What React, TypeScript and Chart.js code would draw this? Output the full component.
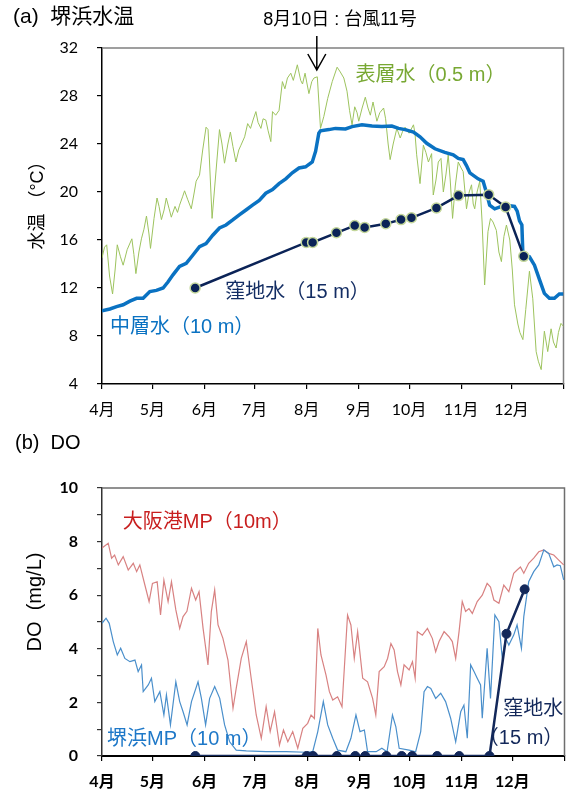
import React, { useEffect, useRef } from 'react';
import { Chart, registerables } from 'chart.js';

Chart.register(...registerables);

// Days counted from 1 April; ticks at the first day of each month
const monthDays = [0, 30, 61, 91, 122, 153, 183, 214, 244, 275];
const monthLabels = ['4月', '5月', '6月', '7月', '8月', '9月', '10月', '11月', '12月', ''];

// (a) surface water temperature, 0.5 m
const surfaceDays = [0, 1.5, 2.8, 4.5, 6.3, 7.8, 9.1, 11, 12.6, 15, 17.8, 19, 20.2, 22, 23.5, 25, 26.5, 28, 28.9, 31, 32.8, 34, 35.4, 37, 38.3, 40, 41.3, 43.5, 45, 46.2, 48, 49.2, 51, 53.2, 55, 56.1, 58.1, 60, 62, 63.2, 65.6, 67.5, 70, 71.5, 73, 75, 76.5, 78, 79.8, 81.5, 82.8, 85, 86.8, 88.5, 90, 91.7, 93, 94.7, 96, 97.6, 99, 100.6, 101.6, 103.5, 105.5, 107.5, 109, 110.5, 112.5, 114, 116.4, 118.4, 119.5, 121, 122.2, 123.3, 125, 126.3, 128.3, 130.2, 132.2, 134.5, 137.2, 140.1, 142, 144.1, 146, 147.5, 149, 150.6, 152, 153, 155, 156.9, 158.5, 159.9, 161.5, 163.8, 165.5, 167.8, 169, 170.5, 171.7, 173.5, 175.7, 177.7, 179, 180.6, 183, 185.6, 186.5, 187.5, 189.5, 191.5, 193, 194.5, 196.4, 197.4, 199, 200.4, 202, 203.4, 205, 206.3, 207.5, 208.9, 210.5, 212.3, 214, 215.2, 217.2, 218.8, 220.2, 221.2, 222.1, 223.5, 225.1, 226.5, 228, 230, 231.5, 233, 235, 236.5, 238, 239.5, 241, 243, 244.5, 245.8, 247.8, 249, 250.8, 252.5, 254.7, 256.7, 258.7, 260, 261.7, 263.6, 265.6, 267.6, 269, 270.6, 272, 273.5, 275];
const surfaceTemp = [14.5, 15.4, 15.6, 13.0, 11.5, 13.5, 15.6, 14.6, 13.9, 15.2, 16.1, 14.8, 13.2, 15.0, 16.1, 16.9, 18.0, 16.5, 15.3, 17.8, 19.5, 18.8, 17.7, 18.5, 19.5, 18.6, 17.9, 18.8, 18.3, 18.9, 19.6, 20.1, 19.4, 18.6, 20.0, 20.9, 21.4, 23.5, 25.4, 25.2, 17.8, 21.0, 25.2, 24.0, 22.4, 24.0, 25.0, 23.8, 22.5, 23.5, 23.9, 24.6, 25.7, 25.3, 26.0, 26.7, 25.8, 25.3, 26.1, 26.0, 25.1, 24.2, 26.7, 26.4, 26.8, 29.2, 28.6, 29.5, 29.9, 29.3, 30.6, 29.3, 29.0, 29.9, 29.0, 28.2, 29.2, 29.5, 29.6, 25.3, 26.3, 27.8, 29.2, 30.4, 30.0, 29.5, 28.4, 26.8, 25.6, 27.1, 26.6, 25.9, 27.0, 27.9, 27.0, 26.4, 27.5, 25.9, 26.6, 27.0, 26.1, 24.0, 22.7, 24.0, 25.3, 24.5, 25.0, 25.4, 24.9, 25.6, 24.9, 23.1, 20.7, 23.9, 23.3, 22.5, 23.2, 19.75, 21.0, 22.5, 22.8, 20.0, 21.5, 23.1, 21.0, 17.8, 20.5, 22.5, 22.0, 21.7, 18.6, 20.0, 20.6, 19.0, 18.6, 20.0, 20.9, 17.5, 12.25, 16.7, 17.8, 17.5, 16.8, 15.0, 14.2, 16.3, 17.25, 16.0, 13.5, 10.6, 9.0, 8.3, 7.7, 10.2, 13.4, 11.1, 6.7, 5.9, 5.2, 8.4, 6.7, 8.6, 7.5, 7.0, 8.3, 9.05, 8.8];

// (a) middle layer water temperature, 10 m
const middleDays = [0, 4.7, 8.7, 12.6, 16.6, 20.6, 24.5, 28.5, 32.4, 36.4, 39.3, 42.3, 46.2, 50.2, 54.2, 58.1, 62, 66, 70, 73.9, 77.9, 81.8, 85.8, 89.7, 93.7, 97.6, 101.6, 105.5, 109.5, 113.4, 117.4, 121.3, 125.3, 127.3, 129.2, 130.2, 135.2, 139.1, 145.1, 149, 154.9, 160.9, 166.8, 172.7, 176.7, 180.6, 185.6, 189.5, 193.5, 198.4, 204.3, 209.3, 212.3, 215.2, 217.2, 219.2, 224.1, 227.1, 229, 231, 234, 238, 240.9, 245.8, 247.4, 248.8, 250.2, 250.8, 254.7, 257.7, 260.7, 263.6, 266.6, 269.6, 272.5, 275];
const middleTemp = [10.1, 10.25, 10.45, 10.6, 10.9, 11.14, 11.14, 11.7, 11.8, 12.0, 12.5, 13.1, 13.8, 14.06, 14.75, 15.45, 15.7, 16.4, 17.0, 17.25, 17.67, 18.1, 18.5, 18.9, 19.3, 19.9, 20.2, 20.7, 21.1, 21.6, 22.0, 22.1, 22.5, 23.4, 24.9, 25.1, 25.2, 25.3, 25.25, 25.45, 25.6, 25.5, 25.45, 25.5, 25.3, 25.2, 25.0, 24.6, 24.06, 23.6, 23.3, 23.1, 22.8, 22.7, 22.2, 21.6, 21.1, 20.9, 20.0, 18.9, 18.6, 18.8, 18.9, 18.8, 18.4, 17.6, 17.25, 14.75, 14.6, 13.9, 12.7, 11.55, 11.14, 11.14, 11.5, 11.5];

// Depression water, 15 m: survey days, temperature and DO
const pitDays = [55.5, 121.7, 125.5, 139.7, 150.6, 156.5, 169.1, 178.2, 184.4, 199.3, 212.4, 230.4, 240.5, 251.3];
const pitTemp = [12.0, 15.8, 15.8, 16.6, 17.2, 17.05, 17.35, 17.7, 17.85, 18.67, 19.7, 19.78, 18.75, 14.64];
const pitDO = [0, 0, 0, 0, 0, 0, 0, 0, 0, 0, 0, 0, 4.56, 6.22];

// (b) DO at Osaka Port MP, 10 m
const osakaDays = [0, 3.7, 5.7, 7.5, 9.7, 12.6, 15.6, 18.6, 20.6, 22.5, 25.5, 28, 30, 32.8, 34.8, 36.8, 39.3, 41.3, 43.9, 46.2, 48.2, 50.5, 53.2, 55.7, 57.7, 60.1, 63, 65, 67, 69, 71.9, 74.9, 77.9, 79.8, 82.8, 85.8, 88.7, 91.7, 94.7, 97.6, 100, 102.6, 105.5, 107.9, 110.5, 113.4, 116.4, 119.4, 122.3, 124.3, 126.3, 128.3, 130.2, 133.2, 135.2, 137.2, 140.1, 142.7, 146, 148, 150, 152, 155, 157.9, 160.9, 162.8, 164.8, 167.8, 169.8, 171.8, 173.7, 175.7, 177.7, 179.6, 182.6, 184.6, 186.2, 187.5, 190.5, 193.5, 196.4, 198.4, 200.4, 203.4, 206.3, 208.3, 210.3, 212.3, 214.2, 216.2, 218.2, 220.2, 223.1, 226.1, 229, 231, 233, 236, 238.9, 241.9, 244.8, 246.8, 248.8, 250.8, 253.7, 256.7, 259.7, 262.7, 265.6, 268.6, 271.6, 274.5];
const osakaDO = [7.76, 7.94, 7.38, 7.5, 7.13, 7.44, 6.94, 7.19, 6.88, 7.13, 6.38, 5.76, 6.44, 6.5, 5.26, 6.56, 5.76, 6.5, 5.45, 4.76, 5.2, 5.4, 6.26, 5.82, 6.13, 4.76, 3.4, 5.39, 6.2, 4.89, 4.39, 3.58, 1.78, 2.52, 3.64, 4.27, 2.9, 1.53, 0.66, 1.84, 0.91, 1.65, 0.41, 0.97, 0.53, 0.91, 0.29, 1.03, 1.22, 1.53, 1.4, 4.76, 3.77, 3.02, 2.4, 2.09, 2.21, 1.84, 5.26, 4.89, 3.64, 4.64, 2.9, 2.77, 2.15, 1.53, 3.15, 3.33, 3.64, 4.2, 3.96, 3.15, 2.65, 3.4, 3.21, 3.52, 2.9, 4.64, 4.51, 4.76, 4.39, 3.89, 4.27, 4.64, 4.45, 4.27, 3.64, 4.64, 5.76, 5.39, 5.5, 5.32, 5.76, 6.0, 6.44, 6.3, 5.82, 5.7, 6.38, 6.13, 6.82, 6.94, 7.05, 6.82, 7.19, 7.38, 7.62, 7.69, 7.56, 7.5, 7.31, 7.13];

// (b) DO at Sakaihama MP, 10 m
const sakaiDays = [0, 2.4, 4.3, 6.7, 9.1, 11.1, 13.6, 16.6, 19.6, 21.5, 23.5, 24.5, 27.5, 29.4, 31.4, 34.4, 36.8, 38.3, 40.7, 43.9, 46.2, 48.2, 50.6, 53.2, 57.1, 59.1, 61.6, 64, 67, 70, 72.9, 75.9, 79.8, 85.8, 97.6, 109.5, 121.3, 125.3, 128.3, 131.6, 134.2, 137.2, 140.1, 145, 148, 151, 153.4, 156, 157.9, 163, 166.4, 169.5, 172.7, 174.7, 176.7, 182.6, 186.5, 189.5, 191.5, 193.5, 195.5, 198.4, 201.4, 204.3, 207.3, 210.3, 213.3, 215.2, 217.2, 219.2, 221.2, 223.1, 225.1, 226.1, 229, 231, 233.6, 236, 238, 240, 241.9, 244.8, 246.8, 249.4, 250.8, 253.7, 256.7, 259.7, 262.7, 265.6, 268.6, 270.6, 272.5, 274.5];
const sakaiDO = [4.95, 5.14, 4.95, 4.27, 3.77, 4.02, 3.64, 3.52, 3.58, 3.15, 3.4, 2.4, 2.65, 2.9, 2.03, 2.4, 1.53, 2.28, 1.16, 2.77, 2.03, 1.65, 1.16, 2.03, 2.77, 2.15, 1.16, 2.15, 2.59, 2.15, 1.16, 0.53, 0.22, 0.19, 0.16, 0.16, 0.14, 0.16, 0.91, 2.03, 1.16, 0.66, 0.22, 0.16, 0.66, 1.53, 0.91, 0.97, 0.16, 0.16, 0.29, 0.16, 1.53, 1.1, 0.29, 0.22, 0.16, 0.91, 2.4, 2.59, 2.52, 2.15, 2.34, 2.03, 1.41, 0.53, 1.65, 1.9, 0.66, 3.4, 3.15, 2.9, 2.65, 1.41, 4.02, 2.15, 5.26, 5.01, 3.64, 4.4, 4.14, 4.51, 4.89, 4.02, 5.2, 6.5, 6.88, 7.13, 7.69, 7.56, 7.06, 7.13, 7.1, 6.57];

// Temperature axis ticks (°C)
const tempTicks = [4, 8, 12, 16, 20, 24, 28, 32];

const CJK = "'Noto Sans CJK JP'";
const SANS = `'Liberation Sans', ${CJK}`;
const TICK = `Lato, ${CJK}`;

const zip = (xs: number[], ys: number[]) => xs.map((x, i) => ({ x, y: ys[i] }));

type TextItem = {
  text: string;
  color: string;
  font: string;
  day?: number;
  value?: number;
  px?: number;
  py?: number;
  align?: CanvasTextAlign;
  rotate?: boolean;
};

// Draws the frame, free text labels and the typhoon arrow
const panelText = {
  id: 'panelText',
  beforeDatasetsDraw(chart: any, _a: any, opts: any) {
    const { ctx, chartArea } = chart;
    if (!opts.frame) return;
    ctx.save();
    ctx.strokeStyle = opts.frame;
    ctx.lineWidth = 1.5;
    ctx.beginPath();
    ctx.moveTo(chartArea.left, chartArea.top);
    ctx.lineTo(chartArea.right, chartArea.top);
    ctx.lineTo(chartArea.right, chartArea.bottom);
    ctx.stroke();
    ctx.restore();
  },
  afterDraw(chart: any, _a: any, opts: any) {
    const { ctx, scales } = chart;
    const items: TextItem[] = opts.items || [];
    for (const t of items) {
      ctx.save();
      ctx.font = t.font;
      ctx.fillStyle = t.color;
      ctx.textAlign = t.align || 'left';
      ctx.textBaseline = 'middle';
      const x = t.day !== undefined ? scales.x.getPixelForValue(t.day) : t.px;
      const y = t.value !== undefined ? scales.y.getPixelForValue(t.value) : t.py;
      ctx.translate(x, y);
      if (t.rotate) ctx.rotate(-Math.PI / 2);
      ctx.fillText(t.text, 0, 0);
      ctx.restore();
    }
    if (opts.arrowDay !== undefined) {
      const x = scales.x.getPixelForValue(opts.arrowDay);
      const y0 = opts.arrowFrom;
      const y1 = opts.arrowTo;
      ctx.save();
      ctx.strokeStyle = '#000';
      ctx.lineWidth = 1.5;
      ctx.beginPath();
      ctx.moveTo(x, y0);
      ctx.lineTo(x, y1);
      ctx.moveTo(x - 9, y1 - 16);
      ctx.lineTo(x, y1);
      ctx.lineTo(x + 9, y1 - 16);
      ctx.stroke();
      ctx.restore();
    }
  },
};

const monthAxis = (bold: boolean, height: number, pad: number, borderWidth: number) => ({
  type: 'linear' as const,
  min: 0,
  max: 275,
  afterBuildTicks: (scale: any) => {
    scale.ticks = monthDays.map((v) => ({ value: v }));
  },
  afterFit: (scale: any) => {
    scale.height = height;
    scale.paddingLeft = 0;
    scale.paddingRight = 0;
  },
  ticks: {
    autoSkip: false,
    maxRotation: 0,
    color: '#000',
    padding: pad,
    font: { family: TICK, size: 16, weight: bold ? 'bold' : 'normal' },
    callback: (v: number) => monthLabels[monthDays.indexOf(v)] ?? '',
  },
  grid: { drawOnChartArea: false, drawTicks: true, tickLength: 5, color: '#000', lineWidth: 1.2 },
  border: { display: true, color: '#000', width: borderWidth },
});

function TempChart() {
  const ref = useRef<HTMLCanvasElement>(null);
  useEffect(() => {
    const chart = new Chart(ref.current!, {
      type: 'line',
      data: {
        datasets: [
          {
            data: zip(pitDays, pitTemp),
            borderColor: '#0B2357',
            borderWidth: 2.5,
            pointRadius: 5,
            pointBackgroundColor: '#0B2357',
            pointBorderColor: '#C4D79B',
            pointBorderWidth: 1.5,
            order: 0,
          },
          {
            data: zip(middleDays, middleTemp),
            borderColor: '#0A72C2',
            borderWidth: 3.5,
            pointRadius: 0,
            order: 1,
          },
          {
            data: zip(surfaceDays, surfaceTemp),
            borderColor: '#9DC35E',
            borderWidth: 1,
            pointRadius: 0,
            order: 2,
          },
        ],
      },
      options: {
        responsive: false,
        animation: false,
        layout: { padding: { top: 48, right: 4, left: 0, bottom: 0 } },
        scales: {
          x: monthAxis(false, 36, 11, 1.5),
          y: {
            type: 'linear',
            min: 4,
            max: 32,
            afterBuildTicks: (scale: any) => {
              scale.ticks = tempTicks.map((v) => ({ value: v }));
            },
            afterFit: (scale: any) => {
              scale.width = 102;
            },
            ticks: { color: '#000', padding: 19, font: { family: TICK, size: 16 } },
            grid: { drawOnChartArea: false, drawTicks: true, tickLength: 5, color: '#000', lineWidth: 1.2 },
            border: { display: true, color: '#000', width: 1.5 },
          },
        },
        plugins: {
          legend: { display: false },
          tooltip: { enabled: false },
          panelText: {
            frame: '#808080',
            arrowDay: 128,
            arrowFrom: 36,
            arrowTo: 70,
            items: [
              { text: '(a)  堺浜水温', px: 13, py: 17, color: '#000', font: `21px ${SANS}` },
              { text: '8月10日 : 台風11号', px: 340, py: 20, color: '#000', font: `18px ${SANS}`, align: 'center' },
              { text: '水温 （°C）', px: 38, py: 201, color: '#000', font: `18px ${SANS}`, align: 'center', rotate: true },
              { text: '表層水（0.5 m）', day: 151, value: 29.75, color: '#78A833', font: `20px ${SANS}` },
              { text: '窪地水（15 m）', day: 73.5, value: 11.6, color: '#132D63', font: `20px ${SANS}` },
              { text: '中層水（10 m）', day: 4.7, value: 8.67, color: '#0A72C2', font: `20px ${SANS}` },
            ],
          },
        } as any,
      },
      plugins: [panelText],
    });
    return () => chart.destroy();
  }, []);
  return <canvas ref={ref} width={570} height={420} style={{ position: 'absolute', left: 0, top: 0 }} />;
}

function DOChart() {
  const ref = useRef<HTMLCanvasElement>(null);
  useEffect(() => {
    const chart = new Chart(ref.current!, {
      type: 'line',
      data: {
        datasets: [
          {
            data: zip(pitDays, pitDO),
            borderColor: '#13285A',
            borderWidth: 2.5,
            pointRadius: 4.5,
            pointBackgroundColor: '#13285A',
            pointBorderColor: '#13285A',
            pointBorderWidth: 1,
            order: 0,
          },
          {
            data: zip(sakaiDays, sakaiDO),
            borderColor: '#4A8FCB',
            borderWidth: 1.2,
            pointRadius: 0,
            order: 1,
          },
          {
            data: zip(osakaDays, osakaDO),
            borderColor: '#D88282',
            borderWidth: 1.2,
            pointRadius: 0,
            order: 2,
          },
        ],
      },
      options: {
        responsive: false,
        animation: false,
        layout: { padding: { top: 63, right: 4, left: 0, bottom: 0 } },
        scales: {
          x: monthAxis(true, 38, 11, 2),
          y: {
            type: 'linear',
            min: 0,
            max: 10,
            afterFit: (scale: any) => {
              scale.width = 102;
            },
            ticks: {
              stepSize: 1,
              color: '#000',
              padding: 19,
              font: { family: TICK, size: 16, weight: 'bold' },
              callback: (v: number) => (v % 2 === 0 ? String(v) : ''),
            },
            grid: { drawOnChartArea: false, drawTicks: true, tickLength: 5, color: '#333', lineWidth: 1.2 },
            border: { display: true, color: '#333', width: 1.5 },
          },
        },
        plugins: {
          legend: { display: false },
          tooltip: { enabled: false },
          panelText: {
            frame: '#6E6E6E',
            items: [
              { text: '(b)  DO', px: 15, py: 18, color: '#000', font: `20px ${SANS}` },
              { text: 'DO  (mg/L)', px: 35, py: 177, color: '#000', font: `20px ${SANS}`, align: 'center', rotate: true },
              { text: '大阪港MP（10m）', day: 12.4, value: 8.73, color: '#C81E1E', font: `20px ${SANS}` },
              { text: '堺浜MP（10 m）', day: 3, value: 0.6, color: '#1E78C8', font: `20px ${SANS}` },
              { text: '窪地水', day: 274.3, value: 1.72, color: '#13285A', font: `20px ${SANS}`, align: 'right' },
              { text: '（15 m）', day: 274.3, value: 0.67, color: '#13285A', font: `20px ${SANS}`, align: 'right' },
            ],
          },
        } as any,
      },
      plugins: [panelText],
    });
    return () => chart.destroy();
  }, []);
  return (
    <canvas
      ref={ref}
      width={570}
      height={369}
      style={{ position: 'absolute', left: 0, top: 425, filter: 'blur(0.4px)' }}
    />
  );
}

export default function App() {
  return (
    <div style={{ position: 'absolute', left: 0, top: 0, width: 570, height: 794, background: '#fff' }}>
      <TempChart />
      <DOChart />
    </div>
  );
}
